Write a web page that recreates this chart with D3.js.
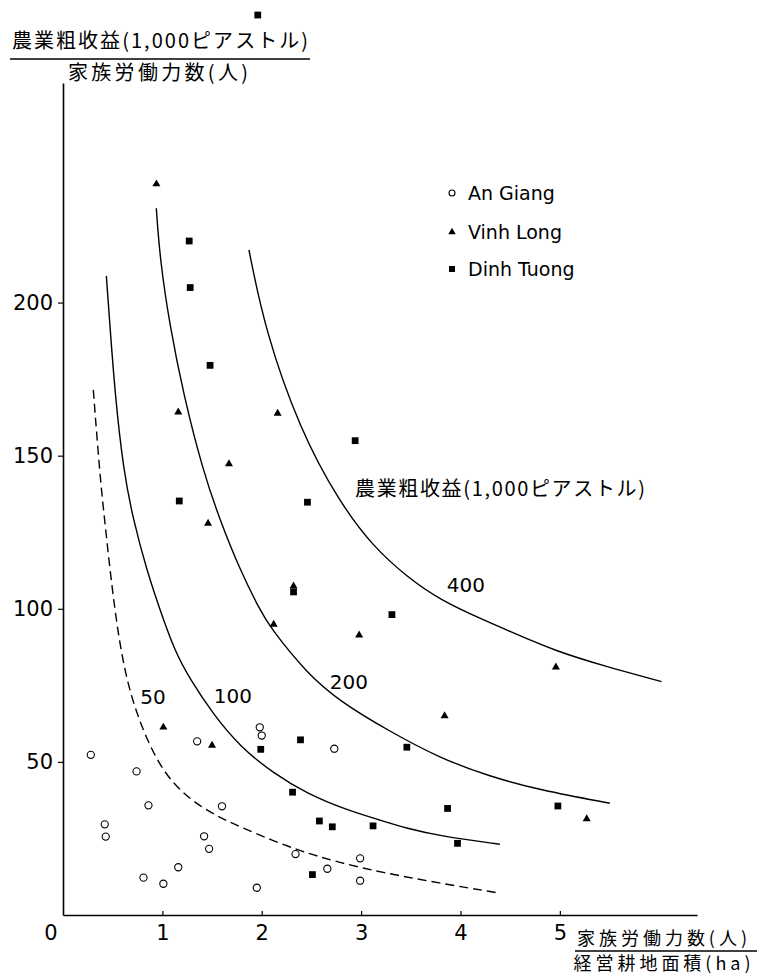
<!DOCTYPE html>
<html><head><meta charset="utf-8">
<script src="https://cdn.jsdelivr.net/npm/d3@7"></script>
<style>body{margin:0;background:#fff}svg{display:block}</style>
</head><body>
<svg id="c" width="759" height="977"></svg>
<script>
// ---- data (x: 家族労働力数/経営耕地面積, y: 農業粗収益/家族労働力数) ----
const seriesNames = ["An Giang", "Vinh Long", "Dinh Tuong"];
const anGiang = [[0.28,52.3],[0.74,46.9],[0.86,35.8],[0.42,29.6],[0.43,25.6],[1.35,56.7],[1.60,35.5],[1.42,25.7],[1.47,21.6],[1.16,15.6],[0.81,12.2],[1.01,10.2],[1.95,8.9],[1.98,61.3],[2.00,58.6],[2.73,54.3],[2.34,19.9],[2.66,15.1],[2.99,18.5],[2.99,11.2]];
const vinhLong = [[0.94,238.7],[1.16,164.2],[2.16,163.8],[1.67,147.3],[1.46,127.9],[2.32,107.4],[2.12,94.9],[2.98,91.4],[4.96,80.9],[3.84,65.0],[5.27,31.4],[1.01,61.3],[1.50,55.4]];
const dinhTuong = [[1.96,293.9],[1.27,220.1],[1.28,204.9],[1.48,179.5],[2.94,154.9],[1.17,135.2],[2.46,134.8],[2.32,105.5],[3.31,98.1],[3.46,54.8],[3.87,34.8],[4.98,35.6],[3.12,29.1],[3.97,23.4],[1.99,54.1],[2.39,57.2],[2.31,40.1],[2.58,30.7],[2.71,28.8],[2.51,13.2]];

// iso-income curves (農業粗収益, 1,000ピアストル)
const curveValues = [50, 100, 200, 400];
const curve50 = [[0.305,171.5],[0.372,143.2],[0.423,127.8],[0.473,112.7],[0.523,99.6],[0.566,89.8],[0.641,76.8],[0.741,65.9],[0.875,55.0],[1.043,45.2],[1.278,37.6],[1.546,32.3],[1.781,28.8],[2.116,24.2],[2.452,20.2],[2.787,17.1],[3.189,14.0],[3.793,10.4],[4.363,7.3]];
const curve100 = [[0.436,208.7],[0.473,192.2],[0.523,170.4],[0.607,145.4],[0.707,129.0],[0.842,112.7],[0.976,99.6],[1.127,86.0],[1.278,77.0],[1.512,65.5],[1.781,55.0],[2.116,46.3],[2.452,39.7],[2.854,34.3],[3.189,31.0],[3.458,28.3],[3.793,25.8],[4.396,23.1]];
const curve200 = [[0.939,230.8],[0.976,214.0],[1.076,192.2],[1.210,170.4],[1.405,145.4],[1.579,129.0],[1.781,112.7],[1.982,99.6],[2.082,94.0],[2.452,79.0],[2.787,69.7],[3.290,59.9],[3.793,51.2],[4.296,45.2],[4.799,40.8],[5.503,36.5]];
const curve400 = [[1.871,217.2],[2.032,191.1],[2.384,158.4],[2.787,134.5],[3.122,120.3],[3.458,110.5],[3.793,102.9],[4.228,96.4],[4.464,93.1],[4.967,86.0],[5.470,81.1],[6.023,76.2]];
const curveLabelPos = [[0.905,71.2],[1.710,71.5],[2.877,76.1],[4.054,107.8]];

const xTicks = [1, 2, 3, 4, 5];
const yTicks = [50, 100, 150, 200];
const yTitleTop = "農業粗收益(1,000ピアストル)";
const yTitleBottom = "家族労働力数(人)";
const xTitleTop = "家族労働力数(人)";
const xTitleBottom = "経営耕地面積(ha)";
const curveTitle = "農業粗收益(1,000ピアストル)";

// ---- drawing ----
const LAT = "'DejaVu Sans', sans-serif";
const CJK = "'Noto Sans CJK JP', sans-serif";
const svg = d3.select("#c");
svg.append("rect").attr("width",759).attr("height",977).attr("fill","#fff");

const x = d3.scaleLinear().domain([0, 6.38]).range([63, 697]);
const y = d3.scaleLinear().domain([0, 271.7]).range([915, 83]);

// axes
const gx = svg.append("g").attr("transform","translate(0,915)")
  .call(d3.axisBottom(x).tickValues(xTicks).tickSizeInner(-4).tickSizeOuter(0).tickPadding(10).tickFormat(d3.format("d")));
gx.attr("font-family", LAT).attr("font-size", 21);
gx.select(".domain").attr("stroke-width", 1.6);
gx.selectAll(".tick line").attr("stroke-width", 1.2);

const gy = svg.append("g").attr("transform","translate(63,0)")
  .call(d3.axisLeft(y).tickValues(yTicks).tickSizeInner(5).tickSizeOuter(0).tickPadding(5).tickFormat(d3.format("d")));
gy.attr("font-family", LAT).attr("font-size", 21);
gy.select(".domain").attr("stroke-width", 1.6);
gy.selectAll(".tick line").attr("stroke-width", 1.2);

// origin label
svg.append("text").attr("x", x(0) - 12).attr("y", 940).attr("text-anchor","middle")
  .attr("font-family", LAT).attr("font-size", 21).text("0");

// curves
const line = d3.line().x(d => x(d[0])).y(d => y(d[1])).curve(d3.curveBasis);
const curves = [curve50, curve100, curve200, curve400];
curves.forEach((c, i) => {
  svg.append("path").attr("d", line(c)).attr("fill","none").attr("stroke","#000")
    .attr("stroke-width", 1.4)
    .attr("stroke-dasharray", i === 0 ? "9,5" : null);
  svg.append("text").attr("x", x(curveLabelPos[i][0])).attr("y", y(curveLabelPos[i][1]))
    .attr("dy","0.36em").attr("text-anchor","middle")
    .attr("font-family", LAT).attr("font-size", 20).text(curveValues[i]);
});

// curve family title
svg.append("text").attr("x", 500).attr("y", 496).attr("text-anchor","middle")
  .attr("font-family", CJK).attr("font-size", 20)
  .attr("textLength", 290).attr("lengthAdjust","spacing").text(curveTitle);

// points
svg.append("g").selectAll("circle").data(anGiang).join("circle")
  .attr("cx", d => x(d[0])).attr("cy", d => y(d[1])).attr("r", 3.6)
  .attr("fill","#fff").attr("stroke","#000").attr("stroke-width", 1.1);
const tri = d3.symbol().type(d3.symbolTriangle).size(28);
svg.append("g").selectAll("path").data(vinhLong).join("path")
  .attr("d", tri).attr("transform", d => `translate(${x(d[0])},${y(d[1])})`).attr("fill","#000");
const sq = d3.symbol().type(d3.symbolSquare).size(46);
svg.append("g").selectAll("path").data(dinhTuong).join("path")
  .attr("d", sq).attr("transform", d => `translate(${x(d[0])},${y(d[1])})`).attr("fill","#000");

// legend
const legBase = [200, 239, 276];
const lg = svg.append("g");
legBase.forEach((b, i) => {
  const cy = b - 7, cx = 452;
  if (i === 0) lg.append("circle").attr("cx",cx).attr("cy",cy).attr("r",3).attr("fill","#fff").attr("stroke","#000").attr("stroke-width",1.1);
  if (i === 1) lg.append("path").attr("d", d3.symbol().type(d3.symbolTriangle).size(24)()).attr("transform",`translate(${cx},${cy})`).attr("fill","#000");
  if (i === 2) lg.append("path").attr("d", d3.symbol().type(d3.symbolSquare).size(36)()).attr("transform",`translate(${cx},${cy})`).attr("fill","#000");
  lg.append("text").attr("x", 468).attr("y", b).attr("font-family", LAT).attr("font-size", 19).text(seriesNames[i]);
});

// y-axis title (fraction)
svg.append("text").attr("x", 160).attr("y", 48).attr("text-anchor","middle")
  .attr("font-family", CJK).attr("font-size", 20)
  .attr("textLength", 296).attr("lengthAdjust","spacing").text(yTitleTop);
svg.append("line").attr("x1", 10).attr("x2", 310).attr("y1", 59).attr("y2", 59).attr("stroke","#000").attr("stroke-width",1.4);
svg.append("text").attr("x", 158).attr("y", 80).attr("text-anchor","middle")
  .attr("font-family", CJK).attr("font-size", 20)
  .attr("textLength", 180).attr("lengthAdjust","spacing").text(yTitleBottom);

// x-axis title (fraction)
svg.append("text").attr("x", 662).attr("y", 945).attr("text-anchor","middle")
  .attr("font-family", CJK).attr("font-size", 18)
  .attr("textLength", 170).attr("lengthAdjust","spacing").text(xTitleTop);
svg.append("line").attr("x1", 575).attr("x2", 757).attr("y1", 951).attr("y2", 951).attr("stroke","#000").attr("stroke-width",1.4);
svg.append("text").attr("x", 662).attr("y", 970).attr("text-anchor","middle")
  .attr("font-family", CJK).attr("font-size", 18)
  .attr("textLength", 177).attr("lengthAdjust","spacing").text(xTitleBottom);
</script>
</body></html>
